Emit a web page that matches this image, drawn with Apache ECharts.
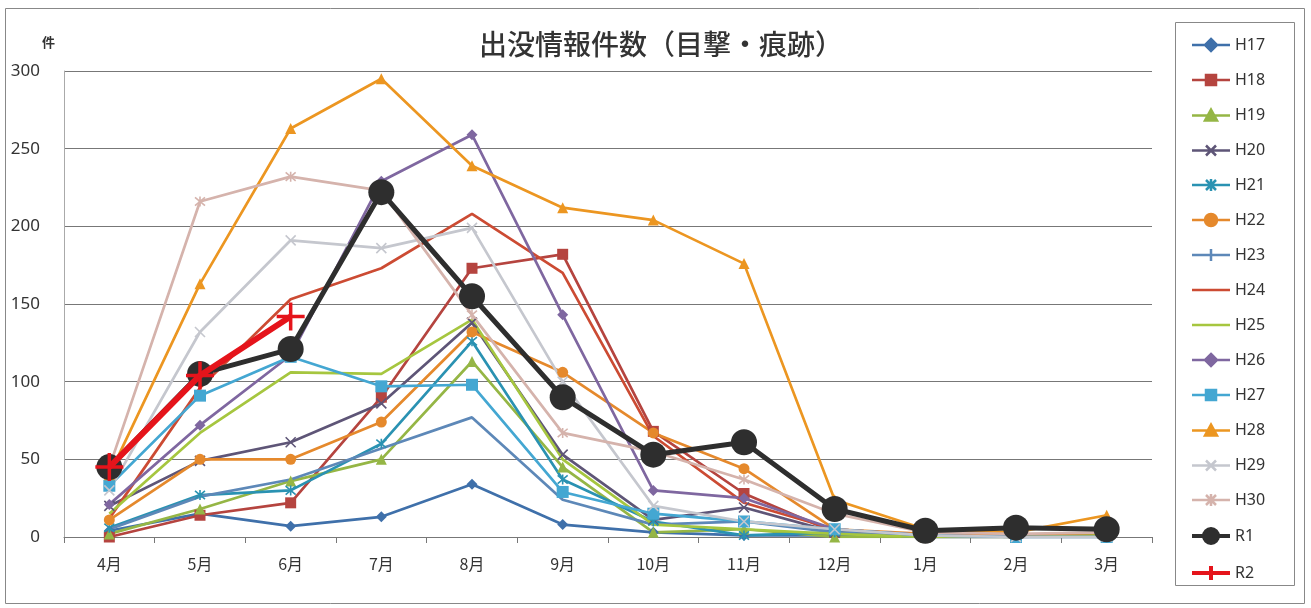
<!DOCTYPE html>
<html><head><meta charset="utf-8">
<script src="https://cdn.jsdelivr.net/npm/echarts@6/dist/echarts.min.js"></script>
<style>html,body{margin:0;padding:0;background:#fff}#c{width:1311px;height:608px}</style>
</head><body><div id="c"></div>
<script>
const months = ['4月','5月','6月','7月','8月','9月','10月','11月','12月','1月','2月','3月'];
const yTicks = [0,50,100,150,200,250,300];
const H17 = [4,15,7,13,34,8,3,1,1,0,0,0];
const H18 = [0,14,22,90,173,182,68,28,3,0,0,1];
const H19 = [2,18,36,50,113,45,3,5,0,0,0,1];
const H20 = [20,49,61,86,138,53,11,19,3,0,0,0];
const H21 = [6,27,30,60,126,37,10,1,3,0,0,0];
const H22 = [11,50,50,74,132,106,67,44,5,2,1,2];
const H23 = [5,26,37,57,77,24,8,10,3,0,0,0];
const H24 = [12,96,153,173,208,170,65,22,5,1,0,1];
const H25 = [15,67,106,105,140,50,8,5,2,0,0,1];
const H26 = [21,72,117,229,259,143,30,25,5,1,0,0];
const H27 = [33,91,116,97,98,29,15,10,5,1,0,0];
const H28 = [40,163,263,295,239,212,204,176,24,5,3,14];
const H29 = [30,132,191,186,199,100,20,10,5,1,0,0];
const H30 = [45,216,232,223,143,67,55,37,15,3,2,3];
const R1  = [45,105,121,222,155,90,53,61,18,4,6,5];
const R2  = [45,104,142];

const X = 'path://M0,0L10,10M10,0L0,10';
const AST = 'path://M0,0L10,10M10,0L0,10M5,-1L5,11';
const PLUS = 'path://M5,0L5,10M0,5L10,5';
const TICK = 'path://M5,0L5,10';

// legend icon shapes (line + marker) in a 38x14 box
const LN = 'M0,7L38,7';
const LI = {
  diamond: 'path://'+LN+'M19,1L25,7L19,13L13,7Z',
  rect: 'path://'+LN+'M14,2L24,2L24,12L14,12Z',
  triangle: 'path://'+LN+'M19,1L25,12L13,12Z',
  x: 'path://'+LN+'M14,2L24,12M24,2L14,12M19,1L19,1',
  ast: 'path://'+LN+'M14,2L24,12M24,2L14,12M19,1L19,13',
  circle: 'path://'+LN+'M13,7A6,6 0 1 1 25,7A6,6 0 1 1 13,7Z',
  tick: 'path://'+LN+'M19,2L19,12M19,1L19,13',
  none: 'path://'+LN+'M19,1L19,1M19,13L19,13',
  big: 'path://'+LN+'M12,7A7,7 0 1 1 26,7A7,7 0 1 1 12,7Z',
  plus: 'path://'+LN+'M19,0L19,14'
};

function s(name, data, color, symbol, size, opts){
  opts = opts || {};
  const stroke = symbol.indexOf('path://')===0;
  return {
    name, type:'line', data, symbol: symbol, symbolSize: size,
    z: opts.z||2,
    lineStyle:{color, width: opts.lw||2.7},
    itemStyle: stroke ? {color:'rgba(255,255,255,0)', borderColor:color, borderWidth: opts.bw||1.6}
                      : {color, borderColor:color, borderWidth:0},
    animation:false
  };
}

const series = [
  s('H17',H17,'#3F70AA','diamond',11),
  s('H18',H18,'#B5443F','rect',11),
  s('H19',H19,'#95B645','triangle',11),
  s('H20',H20,'#5E5577',X,10),
  s('H21',H21,'#2A92B2',AST,10),
  s('H22',H22,'#E5892C','circle',11),
  s('H23',H23,'#5D88B8',TICK,10),
  s('H24',H24,'#CC4B33','none',6),
  s('H25',H25,'#A6C63F','none',6),
  s('H26',H26,'#7F67A0','diamond',11),
  s('H27',H27,'#44A7D2','rect',12),
  s('H28',H28,'#EC9621','triangle',11),
  s('H29',H29,'#C5C7CE',X,10),
  s('H30',H30,'#D5B3AC',AST,10),
  s('R1',R1,'#2E2E2E','circle',26,{lw:5,z:5}),
  s('R2',R2,'#E5141B',PLUS,28,{lw:6,z:6,bw:3.5})
];
const legendIcons = ['diamond','rect','triangle','x','ast','circle','tick','none','none','diamond','rect','triangle','x','ast','big','plus'];
const legendFilled = [1,1,1,0,0,1,0,0,0,1,1,1,0,0,1,0];

const legendData = series.map((se,i)=>{
  const c = se.lineStyle.color;
  return {name: se.name, icon: LI[legendIcons[i]],
    itemStyle:{color: legendFilled[i]? c : 'rgba(255,255,255,0)', borderColor:c,
      borderWidth: (i>=14? 4 : 2.5)}};
});

const chart = echarts.init(document.getElementById('c'));
chart.setOption({
  backgroundColor:'#fff',
  animation:false,
  title:{text:'出没情報件数（目撃・痕跡）', left:656, top:25, textAlign:'center',
    textStyle:{fontFamily:'Noto Sans CJK JP', fontSize:28, fontWeight:500, color:'#333'}},
  graphic:[
    {type:'rect', shape:{x:5.5,y:8.5,width:1299,height:595}, style:{fill:'none',stroke:'#888',lineWidth:1}, silent:true},
    {type:'rect', shape:{x:1175.5,y:22.5,width:119,height:563}, style:{fill:'none',stroke:'#888',lineWidth:1}, silent:true},
    {type:'text', left:42, top:36, style:{text:'件', fontFamily:'Noto Sans CJK JP', fontSize:13, fontWeight:'bold', fill:'#333'}}
  ],
  legend:{
    orient:'vertical', left:1190, top:37, height:560,
    padding:0, itemGap:19, itemWidth:38, itemHeight:14,
    textStyle:{fontFamily:'Noto Sans', fontSize:16, color:'#333'},
    data: legendData
  },
  grid:{left:64, right:159, top:71, bottom:71},
  xAxis:{type:'category', data:months, boundaryGap:true,
    axisLine:{lineStyle:{color:'#777'}},
    axisTick:{show:true, length:6, lineStyle:{color:'#777'}},
    axisLabel:{fontFamily:'Noto Sans CJK JP', fontSize:16, color:'#333', margin:19}},
  yAxis:{type:'value', min:0, max:300, interval:50,
    axisLine:{show:true, lineStyle:{color:'#aaa'}},
    axisTick:{show:false},
    splitLine:{lineStyle:{color:'#777', width:1}},
    axisLabel:{fontFamily:'Noto Sans', fontSize:17, color:'#333', margin:24}},
  series
});
</script></body></html>
